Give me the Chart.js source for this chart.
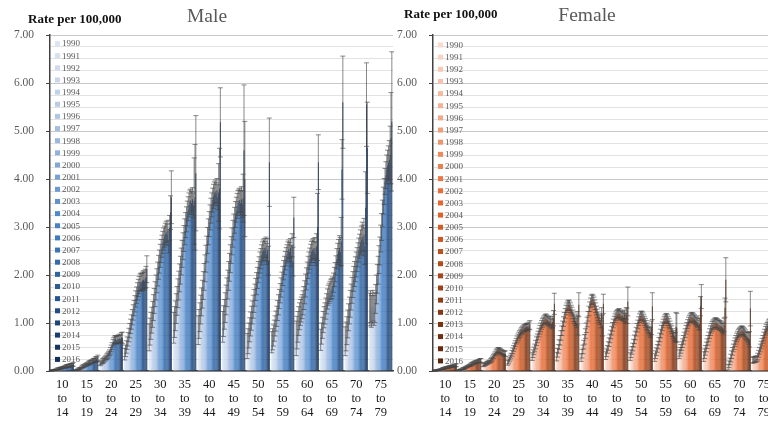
<!DOCTYPE html>
<html>
<head>
<meta charset="utf-8">
<script src="https://cdn.jsdelivr.net/npm/chart.js@4"></script>
<style>
  html, body { margin: 0; padding: 0; background: #fff; overflow: hidden; }
  body { width: 768px; height: 423px; position: relative; }
  .panel { position: absolute; top: 0; width: 394px; height: 423px; }
  #malePanel { left: 0; }
  #femalePanel { left: 383px; }
</style>
</head>
<body>
<div class="panel" id="malePanel"><canvas id="maleChart"></canvas></div>
<div class="panel" id="femalePanel"><canvas id="femaleChart"></canvas></div>
<script>
const ageGroups = [
  ['10','to','14'], ['15','to','19'], ['20','to','24'], ['25','to','29'],
  ['30','to','34'], ['35','to','39'], ['40','to','44'], ['45','to','49'],
  ['50','to','54'], ['55','to','59'], ['60','to','64'], ['65','to','69'],
  ['70','to','74'], ['75','to','79']
];
const years = [1990,1991,1992,1993,1994,1995,1996,1997,1998,1999,2000,2001,2002,2003,
  2004,2005,2006,2007,2008,2009,2010,2011,2012,2013,2014,2015,2016];
const yTicks = [0, 1, 2, 3, 4, 5, 6, 7];

// rates per 100,000, one row per age group, 1990..2016
const maleRate = [
  [0.01,0.01,0.02,0.02,0.02,0.03,0.03,0.04,0.04,0.05,0.05,0.06,0.06,0.07,0.07,0.08,0.09,0.09,0.10,0.10,0.11,0.11,0.12,0.12,0.13,0.13,0.14],
  [0.02,0.02,0.03,0.04,0.04,0.05,0.06,0.08,0.09,0.10,0.10,0.12,0.13,0.14,0.14,0.16,0.17,0.18,0.19,0.19,0.21,0.22,0.22,0.24,0.25,0.24,0.27],
  [0.15,0.17,0.19,0.21,0.22,0.24,0.26,0.28,0.30,0.32,0.35,0.38,0.42,0.47,0.52,0.58,0.62,0.65,0.66,0.64,0.65,0.67,0.66,0.68,0.66,0.70,0.69],
  [0.35,0.42,0.50,0.58,0.66,0.75,0.84,0.93,1.02,1.12,1.22,1.31,1.40,1.50,1.58,1.66,1.73,1.79,1.84,1.86,1.85,1.88,1.90,1.87,1.92,1.96,2.12],
  [0.70,0.82,0.94,1.06,1.18,1.32,1.46,1.60,1.74,1.88,2.02,2.16,2.28,2.40,2.50,2.60,2.68,2.75,2.80,2.86,2.90,2.84,2.92,2.70,2.98,3.30,3.62],
  [0.90,1.02,1.15,1.30,1.46,1.62,1.78,1.94,2.10,2.28,2.44,2.60,2.76,2.90,3.04,3.16,3.28,3.38,3.46,3.52,3.55,3.50,3.58,3.45,3.54,3.62,4.12],
  [0.85,0.98,1.12,1.28,1.44,1.60,1.78,1.96,2.14,2.34,2.54,2.72,2.90,3.06,3.20,3.34,3.46,3.56,3.64,3.70,3.74,3.68,3.76,3.62,3.72,3.80,5.18],
  [0.92,1.04,1.18,1.32,1.48,1.64,1.80,1.98,2.16,2.34,2.52,2.70,2.86,3.00,3.14,3.26,3.36,3.44,3.50,3.54,3.56,3.50,3.58,3.48,3.60,4.60,4.00],
  [0.52,0.62,0.74,0.86,0.98,1.10,1.22,1.34,1.46,1.58,1.70,1.82,1.94,2.06,2.16,2.26,2.34,2.42,2.48,2.52,2.56,2.50,2.58,2.44,2.52,2.30,4.35],
  [0.60,0.66,0.74,0.84,0.94,1.04,1.14,1.26,1.38,1.50,1.62,1.74,1.86,1.98,2.10,2.20,2.30,2.38,2.44,2.50,2.54,2.48,2.56,2.40,2.62,2.28,3.20],
  [0.68,0.80,0.92,1.04,1.14,1.22,1.28,1.34,1.42,1.52,1.64,1.78,1.92,2.04,2.16,2.26,2.34,2.42,2.48,2.52,2.55,2.48,2.56,2.44,2.60,3.00,4.35],
  [0.65,0.78,0.90,1.02,1.12,1.20,1.30,1.40,1.50,1.58,1.62,1.66,1.70,1.72,1.76,1.84,1.96,2.06,2.20,2.34,2.44,2.50,2.56,2.48,2.70,4.20,5.60],
  [0.62,0.72,0.84,0.98,1.12,1.26,1.40,1.54,1.68,1.80,1.92,2.02,2.12,2.22,2.32,2.42,2.52,2.60,2.68,2.74,2.80,2.72,2.84,2.60,3.40,5.55,4.65],
  [1.28,1.34,1.24,1.30,1.36,1.26,1.32,1.50,1.70,1.92,2.10,2.32,2.50,2.76,3.00,3.28,3.55,3.74,3.95,4.08,4.20,4.28,4.34,4.40,4.50,4.85,5.20]
];
// half-width of the 95% interval
const maleErr = [
  [0.01,0.01,0.01,0.01,0.01,0.01,0.01,0.02,0.02,0.02,0.02,0.02,0.02,0.02,0.02,0.02,0.02,0.03,0.03,0.03,0.03,0.03,0.03,0.03,0.03,0.03,0.04],
  [0.01,0.01,0.01,0.02,0.02,0.02,0.02,0.02,0.03,0.03,0.03,0.03,0.03,0.03,0.03,0.04,0.04,0.04,0.04,0.04,0.04,0.04,0.04,0.05,0.05,0.05,0.06],
  [0.04,0.04,0.04,0.05,0.05,0.05,0.05,0.05,0.06,0.06,0.06,0.06,0.07,0.07,0.07,0.08,0.08,0.08,0.08,0.08,0.08,0.08,0.08,0.09,0.09,0.10,0.12],
  [0.12,0.12,0.13,0.13,0.14,0.14,0.15,0.15,0.15,0.16,0.16,0.16,0.17,0.17,0.17,0.18,0.18,0.18,0.18,0.18,0.18,0.18,0.19,0.19,0.20,0.22,0.28],
  [0.28,0.28,0.28,0.27,0.27,0.27,0.26,0.26,0.26,0.25,0.25,0.25,0.24,0.24,0.24,0.23,0.23,0.23,0.22,0.22,0.22,0.22,0.22,0.24,0.26,0.35,0.55],
  [0.32,0.32,0.31,0.31,0.30,0.30,0.30,0.29,0.29,0.28,0.28,0.28,0.27,0.27,0.26,0.26,0.26,0.25,0.25,0.25,0.24,0.24,0.24,0.26,0.90,1.10,1.20],
  [0.30,0.30,0.30,0.30,0.29,0.29,0.29,0.28,0.28,0.28,0.27,0.27,0.27,0.26,0.26,0.26,0.25,0.25,0.25,0.24,0.24,0.24,0.25,0.26,0.60,0.84,0.72],
  [0.32,0.32,0.31,0.31,0.31,0.30,0.30,0.30,0.29,0.29,0.28,0.28,0.28,0.27,0.27,0.27,0.26,0.26,0.26,0.25,0.25,0.25,0.26,0.28,0.50,1.36,1.20],
  [0.26,0.26,0.26,0.25,0.25,0.25,0.24,0.24,0.24,0.23,0.23,0.23,0.22,0.22,0.22,0.22,0.21,0.21,0.21,0.21,0.20,0.20,0.21,0.22,0.24,0.30,0.92],
  [0.22,0.22,0.22,0.22,0.21,0.21,0.21,0.21,0.21,0.20,0.20,0.20,0.20,0.20,0.20,0.19,0.19,0.19,0.19,0.19,0.19,0.20,0.20,0.22,0.24,0.30,0.42],
  [0.36,0.34,0.32,0.30,0.28,0.27,0.26,0.25,0.25,0.24,0.24,0.24,0.23,0.23,0.23,0.22,0.22,0.22,0.22,0.21,0.21,0.22,0.22,0.24,0.26,0.70,0.57],
  [0.22,0.22,0.22,0.22,0.22,0.22,0.22,0.21,0.21,0.21,0.21,0.21,0.21,0.21,0.20,0.20,0.20,0.20,0.20,0.21,0.22,0.24,0.26,0.30,0.50,0.62,0.96],
  [0.30,0.30,0.29,0.29,0.28,0.28,0.28,0.27,0.27,0.27,0.26,0.26,0.26,0.26,0.25,0.25,0.25,0.25,0.26,0.28,0.30,0.32,0.34,0.38,0.75,0.87,0.95],
  [0.34,0.33,0.33,0.32,0.32,0.31,0.31,0.30,0.30,0.30,0.29,0.29,0.29,0.28,0.28,0.28,0.28,0.27,0.27,0.28,0.30,0.32,0.35,0.40,0.60,0.95,1.45]
];

const femaleRate = [
  [0.01,0.01,0.01,0.02,0.02,0.02,0.03,0.03,0.04,0.04,0.05,0.05,0.06,0.06,0.07,0.07,0.08,0.08,0.09,0.09,0.10,0.10,0.11,0.10,0.11,0.12,0.12],
  [0.02,0.02,0.03,0.03,0.04,0.05,0.05,0.06,0.07,0.08,0.09,0.10,0.11,0.12,0.13,0.14,0.15,0.16,0.17,0.18,0.18,0.19,0.20,0.20,0.21,0.22,0.22],
  [0.12,0.13,0.14,0.15,0.16,0.17,0.18,0.19,0.20,0.22,0.24,0.27,0.30,0.33,0.36,0.39,0.41,0.43,0.44,0.43,0.42,0.40,0.39,0.38,0.37,0.36,0.36],
  [0.17,0.20,0.24,0.28,0.32,0.37,0.42,0.47,0.52,0.57,0.62,0.66,0.70,0.74,0.77,0.80,0.83,0.85,0.87,0.89,0.90,0.91,0.92,0.93,0.90,0.94,0.96],
  [0.30,0.36,0.42,0.48,0.55,0.62,0.68,0.74,0.80,0.86,0.91,0.96,1.00,1.03,1.06,1.08,1.10,1.08,1.06,1.04,1.02,1.05,1.00,0.98,1.02,1.10,1.40],
  [0.30,0.38,0.46,0.55,0.64,0.74,0.84,0.94,1.03,1.12,1.20,1.27,1.32,1.36,1.38,1.36,1.32,1.28,1.24,1.18,1.12,1.08,1.04,1.00,1.10,0.95,1.38],
  [0.28,0.36,0.45,0.55,0.66,0.78,0.90,1.02,1.14,1.25,1.34,1.42,1.48,1.50,1.48,1.44,1.38,1.32,1.26,1.20,1.14,1.10,1.06,1.00,1.18,0.95,1.40],
  [0.32,0.38,0.45,0.52,0.60,0.68,0.76,0.84,0.92,0.99,1.05,1.10,1.14,1.17,1.19,1.20,1.21,1.18,1.16,1.14,1.16,1.12,1.18,1.10,1.20,1.15,1.45],
  [0.30,0.36,0.43,0.50,0.58,0.66,0.74,0.82,0.90,0.97,1.04,1.10,1.14,1.16,1.15,1.12,1.08,1.04,1.00,0.96,0.92,0.88,0.85,0.82,0.80,0.90,1.35],
  [0.28,0.34,0.40,0.47,0.54,0.62,0.70,0.78,0.86,0.93,0.99,1.04,1.08,1.10,1.11,1.08,1.04,1.00,0.96,0.90,0.86,0.80,0.76,0.72,0.70,0.92,0.90],
  [0.35,0.40,0.46,0.52,0.58,0.65,0.72,0.79,0.86,0.92,0.98,1.03,1.07,1.10,1.12,1.13,1.12,1.10,1.08,1.06,1.04,1.02,1.00,0.96,0.98,1.35,1.55],
  [0.30,0.36,0.43,0.50,0.57,0.64,0.71,0.78,0.84,0.89,0.93,0.96,0.98,1.00,1.01,1.00,0.99,0.97,0.96,0.95,0.94,0.92,0.90,0.88,0.96,1.32,1.90],
  [0.08,0.14,0.20,0.27,0.34,0.41,0.48,0.54,0.60,0.65,0.70,0.74,0.78,0.80,0.82,0.84,0.85,0.84,0.82,0.80,0.77,0.74,0.72,0.70,0.68,0.66,1.30],
  [0.22,0.24,0.23,0.25,0.24,0.26,0.30,0.36,0.42,0.48,0.54,0.60,0.66,0.72,0.78,0.84,0.88,0.92,0.95,0.98,1.00,1.02,1.04,1.05,1.06,1.10,1.20]
];
const femaleErr = [
  [0.01,0.01,0.01,0.01,0.01,0.01,0.01,0.01,0.01,0.01,0.02,0.02,0.02,0.02,0.02,0.02,0.02,0.02,0.02,0.02,0.02,0.02,0.02,0.02,0.02,0.03,0.03],
  [0.01,0.01,0.01,0.01,0.01,0.02,0.02,0.02,0.02,0.02,0.02,0.02,0.02,0.02,0.03,0.03,0.03,0.03,0.03,0.03,0.03,0.03,0.03,0.03,0.03,0.04,0.04],
  [0.03,0.03,0.03,0.03,0.03,0.03,0.03,0.03,0.03,0.04,0.04,0.04,0.04,0.04,0.04,0.05,0.05,0.05,0.05,0.05,0.05,0.05,0.05,0.05,0.05,0.05,0.06],
  [0.05,0.05,0.05,0.05,0.05,0.06,0.06,0.06,0.06,0.06,0.06,0.07,0.07,0.07,0.07,0.07,0.07,0.07,0.07,0.07,0.07,0.07,0.07,0.07,0.07,0.08,0.09],
  [0.08,0.08,0.08,0.08,0.09,0.09,0.09,0.09,0.09,0.09,0.09,0.09,0.09,0.09,0.09,0.09,0.09,0.09,0.09,0.09,0.09,0.09,0.09,0.10,0.12,0.16,0.22],
  [0.09,0.09,0.09,0.10,0.10,0.10,0.10,0.10,0.10,0.10,0.10,0.10,0.10,0.10,0.10,0.10,0.10,0.09,0.09,0.09,0.09,0.09,0.09,0.10,0.14,0.20,0.25],
  [0.08,0.09,0.09,0.09,0.10,0.10,0.10,0.10,0.10,0.10,0.10,0.10,0.10,0.10,0.10,0.10,0.10,0.10,0.09,0.09,0.09,0.09,0.09,0.10,0.14,0.22,0.20],
  [0.08,0.08,0.08,0.09,0.09,0.09,0.09,0.09,0.09,0.09,0.09,0.09,0.09,0.09,0.09,0.09,0.09,0.09,0.09,0.09,0.09,0.09,0.09,0.10,0.12,0.16,0.30],
  [0.08,0.08,0.08,0.08,0.08,0.09,0.09,0.09,0.09,0.09,0.09,0.09,0.09,0.09,0.09,0.09,0.09,0.09,0.09,0.09,0.08,0.08,0.08,0.09,0.10,0.14,0.28],
  [0.08,0.08,0.08,0.08,0.08,0.08,0.09,0.09,0.09,0.09,0.09,0.09,0.09,0.09,0.09,0.09,0.09,0.09,0.08,0.08,0.08,0.08,0.08,0.09,0.10,0.30,0.30],
  [0.09,0.09,0.09,0.09,0.09,0.09,0.09,0.09,0.09,0.09,0.09,0.09,0.09,0.09,0.09,0.09,0.09,0.09,0.09,0.09,0.09,0.09,0.09,0.10,0.12,0.20,0.25],
  [0.10,0.10,0.10,0.10,0.10,0.10,0.10,0.10,0.10,0.10,0.10,0.10,0.10,0.10,0.10,0.10,0.10,0.10,0.10,0.10,0.10,0.10,0.10,0.11,0.14,0.20,0.46],
  [0.06,0.07,0.07,0.08,0.08,0.08,0.08,0.09,0.09,0.09,0.09,0.09,0.09,0.09,0.09,0.09,0.09,0.09,0.09,0.09,0.09,0.09,0.09,0.10,0.12,0.16,0.36],
  [0.06,0.06,0.06,0.06,0.06,0.06,0.07,0.07,0.07,0.08,0.08,0.08,0.08,0.09,0.09,0.09,0.09,0.09,0.09,0.09,0.09,0.10,0.10,0.10,0.10,0.12,0.14]
];

const maleColors = ['#dbe5f3','#d5e1f1','#cfdcef','#c8d7ed','#c0d2eb','#b8cce8','#afc6e5','#a5bfe2','#9ab8df',
  '#8fb1dc','#83a9d9','#76a1d6','#6a99d3','#5d91cf','#518acc','#4682c6','#3e7bbf','#3874b7','#326cae',
  '#2d65a4','#295d9a','#245590','#204d85','#1c457b','#183d70','#153665','#122e5a'];
const femaleColors = ['#fbd9cb','#f9d2c1','#f8cab6','#f6c2ab','#f5b99f','#f3b093','#f2a787','#f09d7a','#ef936c',
  '#ee895e','#ec7f50','#eb7543','#e96c36','#e5652e','#de6028','#d45b24','#c95520','#be501d','#b34b1b',
  '#a84619','#9c4117','#913c15','#863713','#7b3211','#702d10','#66290e','#5c250d'];

const serif = "'Liberation Serif', 'Times New Roman', serif";

function buildDatasets(rates, errs, colors) {
  return years.map((yr, yi) => ({
    label: String(yr),
    data: rates.map(row => row[yi]),
    errors: errs.map(row => row[yi]),
    backgroundColor: colors[yi],
    borderWidth: 0,
    categoryPercentage: 0.94,
    barPercentage: 1.0
  }));
}

// vertical error bars with caps, drawn from each bar element
const errorBars = {
  id: 'errorBars',
  afterDatasetsDraw(chart) {
    const ctx = chart.ctx;
    const y = chart.scales.y;
    ctx.save();
    ctx.strokeStyle = 'rgba(70,70,70,0.8)';
    ctx.lineWidth = 0.8;
    chart.data.datasets.forEach((ds, i) => {
      const meta = chart.getDatasetMeta(i);
      meta.data.forEach((bar, j) => {
        const v = ds.data[j], e = ds.errors[j];
        const top = y.getPixelForValue(v + e);
        const bot = y.getPixelForValue(Math.max(0, v - e));
        ctx.beginPath();
        ctx.moveTo(bar.x, top); ctx.lineTo(bar.x, bot);
        ctx.moveTo(bar.x - 2.5, top); ctx.lineTo(bar.x + 2.5, top);
        ctx.moveTo(bar.x - 2.5, bot); ctx.lineTo(bar.x + 2.5, bot);
        ctx.stroke();
      });
    });
    ctx.restore();
  }
};

// legend inside the plot, title and unit label
const panelDecor = {
  id: 'panelDecor',
  afterDraw(chart, args, opts) {
    const ctx = chart.ctx;
    const area = chart.chartArea;
    ctx.save();
    ctx.textBaseline = 'middle';
    ctx.font = '9px ' + serif;
    chart.data.datasets.forEach((ds, i) => {
      const cy = opts.legendTop + i * 12.15;
      ctx.fillStyle = ds.backgroundColor;
      ctx.fillRect(area.left + 5, cy - 2.5, 5, 5);
      ctx.fillStyle = '#595959';
      ctx.textAlign = 'left';
      ctx.fillText(ds.label, area.left + 12, cy + 0.5);
    });
    ctx.fillStyle = '#595959';
    ctx.textAlign = 'center';
    ctx.font = '19.5px ' + serif;
    ctx.fillText(opts.title, opts.titleX, opts.titleY);
    ctx.fillStyle = '#111';
    ctx.textAlign = 'left';
    ctx.font = 'bold 13px ' + serif;
    ctx.fillText('Rate per 100,000', opts.unitX, opts.unitY);
    ctx.restore();
  }
};

function makeChart(id, rates, errs, colors, decor) {
  return new Chart(document.getElementById(id), {
    type: 'bar',
    data: { labels: ageGroups, datasets: buildDatasets(rates, errs, colors) },
    options: {
      responsive: true,
      maintainAspectRatio: false,
      animation: false,
      layout: { padding: { left: 0, right: 0, top: 35, bottom: 0 } },
      plugins: {
        legend: { display: false },
        tooltip: { enabled: false },
        panelDecor: decor
      },
      scales: {
        x: {
          afterFit: s => { s.height = 52; },
          border: { color: '#404040', width: 1.5 },
          grid: { display: false, drawTicks: false },
          ticks: {
            padding: 7, color: '#1a1a1a', autoSkip: false, maxRotation: 0,
            font: { family: serif, size: 12.5, lineHeight: 1.12 }
          }
        },
        y: {
          min: 0, max: 7,
          afterFit: s => { s.width = 50; },
          border: { color: '#404040', width: 1.5 },
          grid: {
            color: c => yTicks.includes(c.tick.value) ? '#c8c8c8' : '#e2e2e2',
            tickColor: c => yTicks.includes(c.tick.value) ? '#404040' : 'rgba(0,0,0,0)',
            tickLength: 4
          },
          ticks: {
            stepSize: 0.25, autoSkip: false, padding: 12, color: '#595959',
            font: { family: serif, size: 11.5 },
            callback: v => yTicks.includes(v) ? v.toFixed(2) : ''
          }
        }
      }
    },
    plugins: [errorBars, panelDecor]
  });
}

makeChart('maleChart', maleRate, maleErr, maleColors,
  { title: 'Male', titleX: 207, titleY: 17, unitX: 28, unitY: 20, legendTop: 43.5 });
makeChart('femaleChart', femaleRate, femaleErr, femaleColors,
  { title: 'Female', titleX: 204, titleY: 16, unitX: 21, unitY: 15, legendTop: 45 });
</script>
</body>
</html>
